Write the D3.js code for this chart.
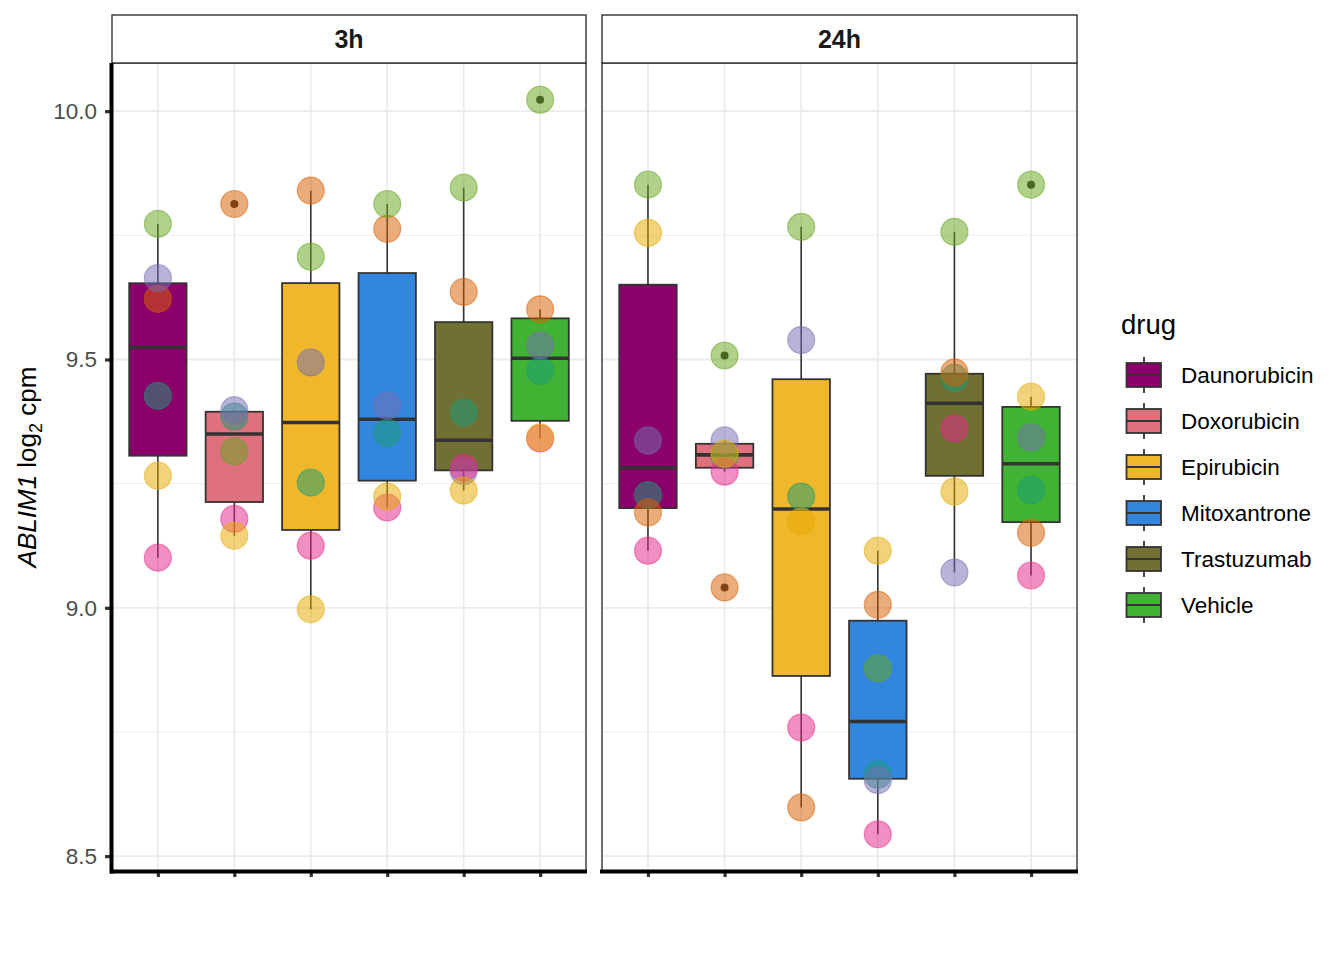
<!DOCTYPE html>
<html>
<head>
<meta charset="utf-8">
<script src="https://cdn.jsdelivr.net/npm/d3@7"></script>
<style>
  html, body { margin: 0; padding: 0; background: #fff; }
  svg { display: block; font-family: "Liberation Sans", Arial, sans-serif; }
</style>
</head>
<body>
<svg id="chart" width="1344" height="960"></svg>
<script>
// ---------------- data ----------------
const drugs = ["Daunorubicin", "Doxorubicin", "Epirubicin", "Mitoxantrone", "Trastuzumab", "Vehicle"];
const times = ["3h", "24h"];
const individuals = ["1", "2", "3", "4", "5", "6"];
const yTicks = [8.5, 9.0, 9.5, 10.0];
const yMinor = [8.75, 9.25, 9.75];

// values per drug, in individual order [1..6]
const dauno_3h = [9.427, 9.622, 9.664, 9.101, 9.773, 9.266];
const doxo_3h  = [9.385, 9.813, 9.398, 9.179, 9.315, 9.145];
const epi_3h   = [9.252, 9.840, 9.494, 9.125, 9.707, 8.997];
const mito_3h  = [9.352, 9.763, 9.407, 9.202, 9.813, 9.224];
const tras_3h  = [9.393, 9.636, 9.275, 9.282, 9.846, 9.236];
const veh_3h   = [9.477, 9.601, 9.528, 9.341, 10.023, 9.343];

const dauno_24h = [9.227, 9.192, 9.337, 9.115, 9.852, 9.755];
const doxo_24h  = [9.306, 9.041, 9.337, 9.274, 9.508, 9.310];
const epi_24h   = [9.224, 8.598, 9.539, 8.759, 9.767, 9.174];
const mito_24h  = [8.664, 9.006, 8.653, 8.544, 8.878, 9.115];
const tras_24h  = [9.463, 9.474, 9.071, 9.361, 9.757, 9.234];
const veh_24h   = [9.237, 9.151, 9.343, 9.065, 9.852, 9.425];

const drugColors = ["#8B0069", "#DF707E", "#F1B72B", "#3386DD", "#707033", "#41B334"];
const indColors = ["#1B9E77", "#D95F02", "#7570B3", "#E7298A", "#66A61E", "#E6AB02"];

const valuesByTime = {
  "3h":  [dauno_3h, doxo_3h, epi_3h, mito_3h, tras_3h, veh_3h],
  "24h": [dauno_24h, doxo_24h, epi_24h, mito_24h, tras_24h, veh_24h]
};

// ---------------- layout ----------------
const svg = d3.select("#chart");
const panelTop = 63, panelBottom = 871, stripTop = 15;
const panels = [{time: "3h", x0: 112, x1: 586}, {time: "24h", x0: 602, x1: 1077}];

const allVals = times.flatMap(t => valuesByTime[t].flat());
const [vmin, vmax] = d3.extent(allVals);
const pad = (vmax - vmin) * 0.05;
const y = d3.scaleLinear().domain([vmin - pad, vmax + pad]).range([panelBottom, panelTop]);

const color = d3.scaleOrdinal().domain(drugs).range(drugColors);
const indColor = d3.scaleOrdinal().domain(individuals).range(indColors);

function boxStats(vals) {
  const s = vals.slice().sort(d3.ascending);
  const q1 = d3.quantileSorted(s, 0.25), med = d3.quantileSorted(s, 0.5), q3 = d3.quantileSorted(s, 0.75);
  const iqr = q3 - q1, lo = q1 - 1.5 * iqr, hi = q3 + 1.5 * iqr;
  const inside = s.filter(v => v >= lo && v <= hi);
  return {q1, med, q3, wlo: d3.min(inside), whi: d3.max(inside), out: s.filter(v => v < lo || v > hi)};
}

panels.forEach((p, pi) => {
  // discrete axis with ggplot's 0.6 expansion on each side
  const step = (p.x1 - p.x0) / 6.2;
  const xs = d3.scalePoint().domain(drugs).range([p.x0 + 0.6 * step, p.x1 - 0.6 * step]);
  const cx = d => xs(d);
  const bw = step * 0.75;
  const g = svg.append("g");

  // background grid
  g.selectAll("line.minor").data(yMinor).join("line")
    .attr("x1", p.x0).attr("x2", p.x1).attr("y1", d => y(d)).attr("y2", d => y(d))
    .attr("stroke", "#EBEBEB").attr("stroke-width", 0.9);
  g.selectAll("line.major").data(yTicks).join("line")
    .attr("x1", p.x0).attr("x2", p.x1).attr("y1", d => y(d)).attr("y2", d => y(d))
    .attr("stroke", "#EBEBEB").attr("stroke-width", 1.8);
  g.selectAll("line.vgrid").data(drugs).join("line")
    .attr("x1", d => cx(d)).attr("x2", d => cx(d)).attr("y1", panelTop).attr("y2", panelBottom)
    .attr("stroke", "#EBEBEB").attr("stroke-width", 1.8);

  const vals = valuesByTime[p.time];
  drugs.forEach((d, di) => {
    const st = boxStats(vals[di]);
    const c = cx(d);
    const bg = g.append("g");
    bg.append("line").attr("x1", c).attr("x2", c).attr("y1", y(st.q3)).attr("y2", y(st.whi))
      .attr("stroke", "#333333").attr("stroke-width", 1.6);
    bg.append("line").attr("x1", c).attr("x2", c).attr("y1", y(st.q1)).attr("y2", y(st.wlo))
      .attr("stroke", "#333333").attr("stroke-width", 1.6);
    bg.append("rect").attr("x", c - bw / 2).attr("width", bw)
      .attr("y", y(st.q3)).attr("height", y(st.q1) - y(st.q3))
      .attr("fill", color(d)).attr("stroke", "#333333").attr("stroke-width", 1.8);
    bg.append("line").attr("x1", c - bw / 2).attr("x2", c + bw / 2).attr("y1", y(st.med)).attr("y2", y(st.med))
      .attr("stroke", "#333333").attr("stroke-width", 3.6);
    bg.selectAll("circle").data(st.out).join("circle")
      .attr("cx", c).attr("cy", v => y(v)).attr("r", 4).attr("fill", "#222");
  });

  // individual points
  drugs.forEach((d, di) => {
    g.append("g").selectAll("circle").data(vals[di]).join("circle")
      .attr("cx", cx(d)).attr("cy", v => y(v)).attr("r", 13.5)
      .attr("fill", (v, i) => indColor(individuals[i])).attr("fill-opacity", 0.52)
      .attr("stroke", (v, i) => indColor(individuals[i])).attr("stroke-opacity", 0.5).attr("stroke-width", 1.2);
  });

  // panel border
  g.append("rect").attr("x", p.x0).attr("y", panelTop).attr("width", p.x1 - p.x0).attr("height", panelBottom - panelTop)
    .attr("fill", "none").attr("stroke", "#333333").attr("stroke-width", 1.4);

  // strip
  g.append("rect").attr("x", p.x0).attr("y", stripTop).attr("width", p.x1 - p.x0).attr("height", panelTop - stripTop)
    .attr("fill", "#ffffff").attr("stroke", "#333333").attr("stroke-width", 1.4);
  g.append("text").attr("x", (p.x0 + p.x1) / 2).attr("y", (stripTop + panelTop) / 2 + 9)
    .attr("text-anchor", "middle").attr("font-size", 25).attr("font-weight", "bold").attr("fill", "#1A1A1A")
    .text(p.time);

  // x axis (ticks only)
  const xAxis = d3.axisBottom(xs).tickSize(6).tickFormat("");
  const xa = g.append("g").attr("transform", `translate(0,${panelBottom})`).call(xAxis);
  xa.select(".domain").remove();
  xa.selectAll(".tick line").attr("stroke", "#333333").attr("stroke-width", 3.2).attr("y1", 1);
  g.append("line").attr("x1", p.x0 - 2).attr("x2", p.x1 + 1).attr("y1", panelBottom + 0.5).attr("y2", panelBottom + 0.5)
    .attr("stroke", "#000").attr("stroke-width", 4);

  if (pi === 0) {
    const yAxis = d3.axisLeft(y).tickValues(yTicks).tickFormat(d3.format(".1f")).tickSize(6).tickPadding(8);
    const ya = g.append("g").attr("transform", `translate(${p.x0 - 1},0)`).call(yAxis);
    ya.select(".domain").remove();
    ya.selectAll(".tick line").attr("stroke", "#333333").attr("stroke-width", 3.2);
    ya.selectAll(".tick text").attr("font-size", 22.5).attr("fill", "#4D4D4D")
      .attr("font-family", "'Liberation Sans', Arial, sans-serif");
    g.append("line").attr("x1", p.x0 - 0.5).attr("x2", p.x0 - 0.5).attr("y1", panelTop).attr("y2", panelBottom + 2.5)
      .attr("stroke", "#000").attr("stroke-width", 4);
  }
});

// y axis title
const yt = svg.append("text").attr("transform", `translate(36,${(panelTop + panelBottom) / 2}) rotate(-90)`)
  .attr("text-anchor", "middle").attr("font-size", 26).attr("fill", "#000");
yt.append("tspan").attr("font-style", "italic").text("ABLIM1");
yt.append("tspan").text(" log");
yt.append("tspan").attr("font-size", 18).attr("dy", 6).text("2");
yt.append("tspan").attr("dy", -6).text(" cpm");

// legend
const lg = svg.append("g");
lg.append("text").attr("x", 1121).attr("y", 334).attr("font-size", 27.5).attr("fill", "#000").text("drug");
const keyTop = 363, keyStep = 46;
drugs.forEach((d, i) => {
  const ky = keyTop + i * keyStep;
  lg.append("line").attr("x1", 1144).attr("x2", 1144).attr("y1", ky - 6).attr("y2", ky + 30)
    .attr("stroke", "#333333").attr("stroke-width", 1.8);
  lg.append("rect").attr("x", 1126.5).attr("y", ky).attr("width", 34.5).attr("height", 24)
    .attr("fill", color(d)).attr("stroke", "#333333").attr("stroke-width", 1.8);
  lg.append("line").attr("x1", 1126.5).attr("x2", 1161).attr("y1", ky + 12).attr("y2", ky + 12)
    .attr("stroke", "#333333").attr("stroke-width", 1.8);
  lg.append("text").attr("x", 1181).attr("y", ky + 12).attr("dy", "0.35em")
    .attr("font-size", 22.5).attr("fill", "#000").text(d);
});
</script>
</body>
</html>
